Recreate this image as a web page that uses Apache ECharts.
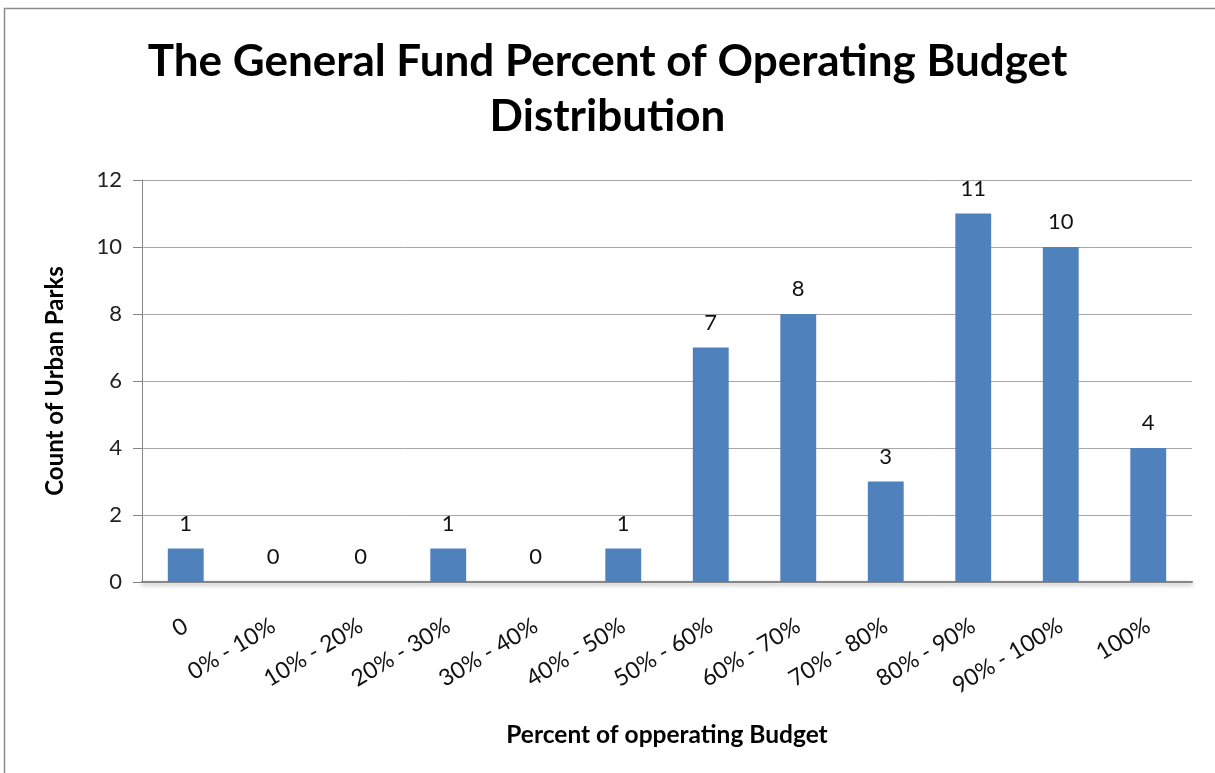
<!DOCTYPE html>
<html>
<head>
<meta charset="utf-8">
<script src="https://cdn.jsdelivr.net/npm/echarts@6/dist/echarts.min.js"></script>
<style>
html,body{margin:0;padding:0;background:#fff;}
#chart{width:1215px;height:773px;}
</style>
</head>
<body>
<div id="chart"></div>
<script>
const categories = ['0', '0% - 10%', '10% - 20%', '20% - 30%', '30% - 40%', '40% - 50%', '50% - 60%', '60% - 70%', '70% - 80%', '80% - 90%', '90% - 100%', '100%'];
const counts = [1, 0, 0, 1, 0, 1, 7, 8, 3, 11, 10, 4];
const yTicks = [0, 2, 4, 6, 8, 10, 12];

const FONT = 'Lato, "Open Sans", sans-serif';
const chart = echarts.init(document.getElementById('chart'), null, {renderer: 'canvas'});
chart.setOption({
  animation: false,
  backgroundColor: '#ffffff',
  graphic: [{
    type: 'rect', silent: true, z: -1,
    shape: {x: 4.5, y: 8.5, width: 1230, height: 800},
    style: {fill: 'none', stroke: '#8c8c8c', lineWidth: 1.5}
  }],
  title: {
    text: 'The General Fund Percent of Operating Budget\nDistribution',
    left: 'center',
    top: 29,
    textStyle: {fontFamily: FONT, fontWeight: 'bold', fontSize: 44, lineHeight: 55, color: '#000'}
  },
  grid: {left: 142, right: 23, top: 180, bottom: 191, containLabel: false},
  xAxis: {
    type: 'category',
    data: categories,
    name: 'Percent of opperating Budget',
    nameLocation: 'middle',
    nameGap: 141,
    nameTextStyle: {fontFamily: FONT, fontWeight: 'bold', fontSize: 24.5, color: '#000'},
    axisLine: {lineStyle: {color: '#868686', width: 2, shadowColor: 'rgba(0,0,0,0.35)', shadowBlur: 4, shadowOffsetY: 2}},
    axisTick: {show: false},
    axisLabel: {rotate: 31, margin: 42, fontFamily: FONT, fontSize: 23, color: '#111', interval: 0}
  },
  yAxis: {
    type: 'value',
    min: 0, max: 12, interval: 2,
    name: 'Count of Urban Parks',
    nameLocation: 'middle',
    nameGap: 75,
    nameTextStyle: {fontFamily: FONT, fontWeight: 'bold', fontSize: 24, color: '#000'},
    axisLine: {show: true, lineStyle: {color: '#868686', width: 1}},
    axisTick: {show: true, length: 9, lineStyle: {color: '#868686'}},
    axisLabel: {margin: 20, fontFamily: FONT, fontSize: 22, color: '#222',
      formatter: v => yTicks.includes(v) ? String(v) : ''},
    splitLine: {lineStyle: {color: '#a6a6a6', width: 1}}
  },
  series: [{
    type: 'bar',
    data: counts,
    barWidth: '41%',
    itemStyle: {color: '#4f81bd'},
    label: {show: true, position: 'top', distance: 14, fontFamily: FONT, fontSize: 22, color: '#111'}
  }]
});
</script>
</body>
</html>
